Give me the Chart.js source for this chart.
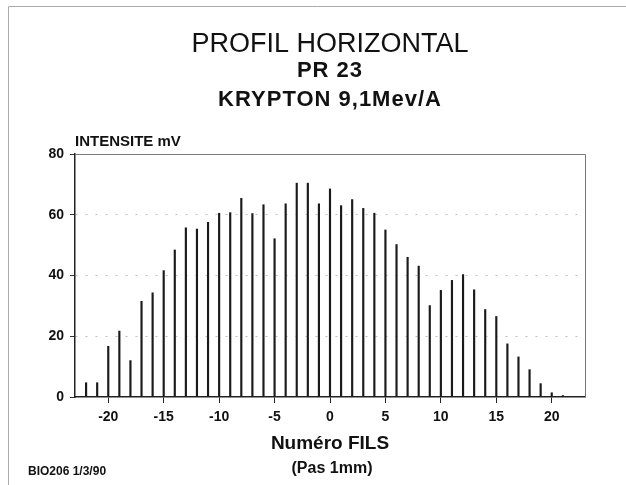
<!DOCTYPE html>
<html>
<head>
<meta charset="utf-8">
<script src="https://cdn.jsdelivr.net/npm/chart.js@4/dist/chart.umd.min.js"></script>
<style>
  html, body { margin: 0; padding: 0; background: #fff; }
</style>
</head>
<body>
<canvas id="chart" width="626" height="485"></canvas>
<script>
// wire numbers (Numéro FILS) and measured intensity in mV
const fils = [-22, -21, -20, -19, -18, -17, -16, -15, -14, -13, -12, -11, -10, -9, -8, -7, -6, -5, -4, -3, -2, -1,
              0, 1, 2, 3, 4, 5, 6, 7, 8, 9, 10, 11, 12, 13, 14, 15, 16, 17, 18, 19, 20, 21];
const intensite = [4.7, 4.7, 16.7, 21.7, 12, 31.5, 34.3, 41.6, 48.4, 55.7, 55.3, 57.5, 60.5, 60.7, 65.4, 60.4, 63.3, 52.1, 63.6, 70.4, 70.4, 63.6,
                   68.5, 63.0, 65.0, 62.1, 60.5, 55.0, 50.2, 46.0, 43.1, 30.1, 35.1, 38.4, 40.3, 35.3, 28.8, 26.5, 17.5, 13.2, 9.0, 4.4, 1.4, 0.5];
const xTicks = [-20, -15, -10, -5, 0, 5, 10, 15, 20];
const yTicks = [0, 20, 40, 60, 80];

const titleLines = ['PROFIL HORIZONTAL', 'PR 23', 'KRYPTON 9,1Mev/A'];
const yTitle = 'INTENSITE mV';
const xTitle = ['Numéro FILS', '(Pas 1mm)'];
const note = 'BIO206 1/3/90';

const FONT = '"Liberation Sans", Arial, sans-serif';

// frame, page border and all the texts
const decor = {
  id: 'decor',
  beforeDraw(chart) {
    const ctx = chart.ctx;
    ctx.save();
    ctx.fillStyle = '#fff';
    ctx.fillRect(0, 0, chart.width, chart.height);
    ctx.strokeStyle = '#aaa';
    ctx.lineWidth = 1;
    ctx.beginPath();
    ctx.moveTo(8.5, chart.height);
    ctx.lineTo(8.5, 6.5);
    ctx.lineTo(chart.width, 6.5);
    ctx.stroke();
    ctx.restore();
  },
  afterDraw(chart) {
    const ctx = chart.ctx;
    const a = chart.chartArea;
    const cx = (a.left + a.right) / 2;
    ctx.save();
    ctx.strokeStyle = '#777';
    ctx.lineWidth = 1;
    ctx.beginPath();
    ctx.moveTo(a.left, a.top + 0.5);
    ctx.lineTo(a.right + 0.5, a.top + 0.5);
    ctx.lineTo(a.right + 0.5, a.bottom);
    ctx.stroke();

    ctx.fillStyle = '#111';
    ctx.textAlign = 'center';
    ctx.textBaseline = 'alphabetic';
    ctx.font = '27px ' + FONT;
    ctx.fillText(titleLines[0], cx, 52);
    ctx.font = 'bold 22px ' + FONT;
    ctx.letterSpacing = '1px';
    ctx.fillText(titleLines[1], cx, 77);
    ctx.fillText(titleLines[2], cx, 106);
    ctx.letterSpacing = '0px';

    ctx.textAlign = 'left';
    ctx.font = 'bold 15px ' + FONT;
    ctx.fillText(yTitle, a.left, 146);

    ctx.textAlign = 'center';
    ctx.font = 'bold 19px ' + FONT;
    ctx.fillText(xTitle[0], cx, 449);
    ctx.font = 'bold 16px ' + FONT;
    ctx.fillText(xTitle[1], cx + 2, 473);

    ctx.textAlign = 'left';
    ctx.font = 'bold 12px ' + FONT;
    ctx.fillText(note, 28, 475);
    ctx.restore();
  }
};

new Chart(document.getElementById('chart'), {
  type: 'bar',
  data: {
    datasets: [{
      data: fils.map((f, i) => ({ x: f, y: intensite[i] })),
      backgroundColor: '#1a1a1a',
      barThickness: 1.5
    }]
  },
  options: {
    responsive: false,
    devicePixelRatio: 1,
    animation: false,
    layout: { padding: { left: 0, right: 41, top: 154, bottom: 0 } },
    plugins: { legend: { display: false }, tooltip: { enabled: false } },
    scales: {
      x: {
        type: 'linear',
        offset: false,
        min: -23,
        max: 23,
        afterBuildTicks: axis => { axis.ticks = xTicks.map(v => ({ value: v })); },
        afterFit: axis => { axis.height = 88; },
        ticks: { color: '#111', font: { family: FONT, size: 14, weight: 'bold' }, padding: 6, maxRotation: 0, autoSkip: false },
        grid: { offset: false, drawOnChartArea: false, tickLength: 6, color: '#222', tickColor: '#222' },
        border: { color: '#222', width: 1.5 }
      },
      y: {
        min: 0,
        max: 80,
        afterBuildTicks: axis => { axis.ticks = yTicks.map(v => ({ value: v })); },
        afterFit: axis => { axis.width = 75; },
        ticks: { color: '#111', font: { family: FONT, size: 14, weight: 'bold' }, padding: 6 },
        grid: {
          tickLength: 5,
          tickColor: '#333',
          color: c => (c.tick && (c.tick.value === 0 || c.tick.value === 80)) ? 'rgba(0,0,0,0)' : 'rgba(0,0,0,0.25)'
        },
        border: { color: '#222', width: 1.5, dash: [2, 8] }
      }
    }
  },
  plugins: [decor]
});
</script>
</body>
</html>
